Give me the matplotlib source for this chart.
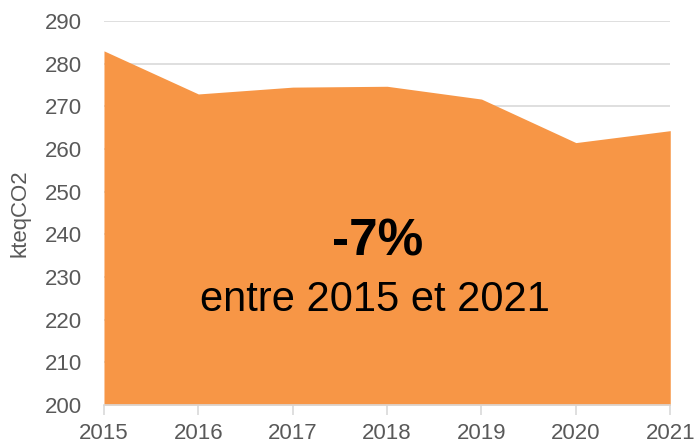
import matplotlib
matplotlib.use("Agg")
import matplotlib.pyplot as plt

years = [2015, 2016, 2017, 2018, 2019, 2020, 2021]
values = [283.0, 272.9, 274.5, 274.7, 271.7, 261.5, 264.3]
yticks = [200, 210, 220, 230, 240, 250, 260, 270, 280, 290]

plt.rcParams['font.family'] = ['Liberation Sans', 'DejaVu Sans']

fig = plt.figure(figsize=(6.95, 4.43), dpi=100)
ax = fig.add_axes([0.1496, 0.0858, 0.8148, 0.8668])

ax.fill_between(years, values, 200, color='#F79646', linewidth=0, zorder=2)
ax.set_xlim(years[0], years[-1])
ax.set_ylim(200, 290)
ax.set_yticks(yticks)
ax.set_xticks(years)
ax.grid(axis='y', color='#D9D9D9', linewidth=1.2, zorder=1)
ax.set_axisbelow(True)
for s in ['left', 'right', 'top']:
    ax.spines[s].set_visible(False)
ax.spines['bottom'].set_color('#D9D9D9')
ax.spines['bottom'].set_linewidth(1.2)
ax.spines['bottom'].set_zorder(3)
ax.tick_params(axis='y', length=0, labelsize=16, labelcolor='#595959', pad=16)
ax.tick_params(axis='x', length=7, color='#D9D9D9', width=1.2, labelsize=16, labelcolor='#595959', pad=6)
ax.set_ylabel('kteqCO2', fontsize=16, color='#595959', labelpad=10)

fig.text(378 / 695, 1 - 242 / 443, '-7%', fontsize=37, fontweight='bold', color='black', ha='center', va='center')
fig.text(375 / 695, 1 - 300 / 443, 'entre 2015 et 2021', fontsize=30, color='black', ha='center', va='center')

fig.savefig('out.png', dpi=100)
